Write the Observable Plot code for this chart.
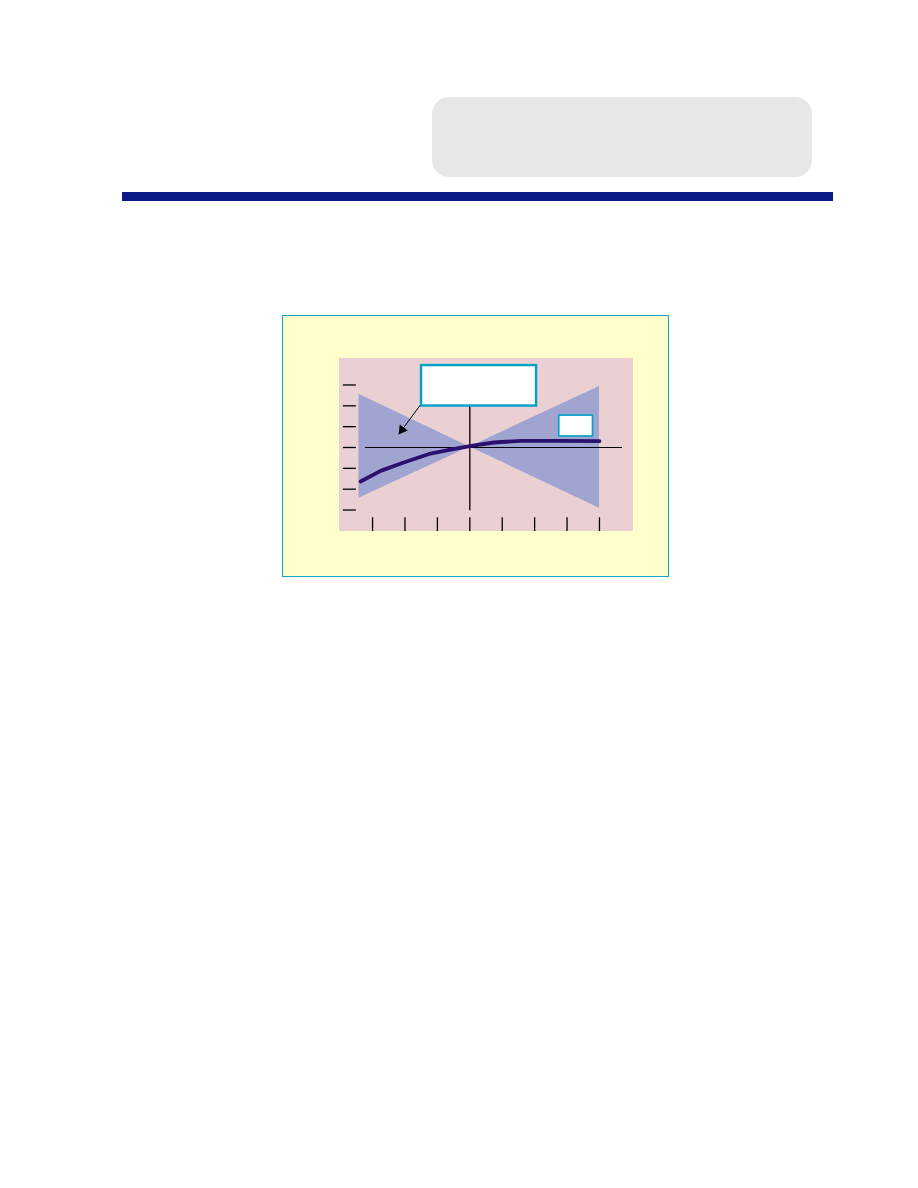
<!DOCTYPE html>
<html><head><meta charset="utf-8">
<script src="https://cdn.jsdelivr.net/npm/d3@7"></script>
<script src="https://cdn.jsdelivr.net/npm/@observablehq/plot@0.6"></script>
<style>
html,body{margin:0;padding:0;background:#fff;font-family:"Liberation Sans",Arial,sans-serif;}
#page{position:relative;width:918px;height:1188px;overflow:hidden;}
.gray{position:absolute;left:432px;top:97px;width:380px;height:80px;background:#e6e7e9;border-radius:17px;}
.bar{position:absolute;left:122px;top:192px;width:711px;height:9px;background:#0c1a8a;}
.frame{position:absolute;left:282px;top:315px;width:385px;height:260px;background:#ffffcc;border:1.5px solid #1aa3c8;}
#chart{position:absolute;left:339px;top:358px;line-height:0;}
</style></head>
<body>
<div id="page">
  <div class="gray"></div>
  <div class="bar"></div>
  <div class="frame"></div>
  <div id="chart"></div>
</div>
<script>
// ---- data ----
const xTicks = [-3, -2, -1, 0, 1, 2, 3, 4];
const yTicks = [-3, -2, -1, 0, 1, 2, 3];
const bandX = [-3.42, 0, 4];
const bandLow = [-2.43, 0.03, -2.91];
const bandHigh = [2.56, 0.03, 2.93];
const lineX = [-3.37, -2.75, -2.04, -1.21, -0.60, 0, 0.74, 1.56, 2.79, 4.0];
const lineY = [-1.63, -1.12, -0.72, -0.29, -0.10, 0.07, 0.24, 0.32, 0.32, 0.31];
const calloutBox = {x1: -1.49, x2: 2.06, y1: 1.99, y2: 3.93};
const labelBox = {x1: 2.76, x2: 3.8, y1: 0.53, y2: 1.53};
const arrowFrom = [-1.52, 2.05];
const arrowTo = [-2.19, 0.64];

// ---- build ----
const band = bandX.map((x, i) => ({x, lo: bandLow[i], hi: bandHigh[i]}));
const series = lineX.map((x, i) => ({x, y: lineY[i]}));
const W = 294, H = 173;
const xDom = [-4.02, 5.05], yDom = [-4.03, 4.27];
const kx = W / (xDom[1] - xDom[0]), ky = H / (yDom[1] - yDom[0]);
const dxp = (arrowTo[0] - arrowFrom[0]) * kx, dyp = -(arrowTo[1] - arrowFrom[1]) * ky;
const ang = Math.atan2(dyp, dxp);
const back = 5.4;

const chart = Plot.plot({
  width: W, height: H,
  margin: 0,
  x: {domain: xDom, axis: null},
  y: {domain: yDom, axis: null},
  style: {background: "#eacfd3", overflow: "visible"},
  marks: [
    Plot.areaY(band, {x: "x", y1: "lo", y2: "hi", fill: "#a0a4d1", curve: "linear"}),
    Plot.ruleY([0], {x1: -3.22, x2: 4.71, stroke: "#000", strokeWidth: 1.1}),
    Plot.ruleX([0], {y1: -3.04, y2: 2.9, stroke: "#000", strokeWidth: 1.3}),
    Plot.line(series, {x: "x", y: "y", stroke: "#2b106f", strokeWidth: 3.8, curve: "linear", strokeLinejoin: "round"}),
    Plot.ruleY(yTicks, {x1: -3.9, x2: -3.5, stroke: "#000", strokeWidth: 1.3}),
    Plot.ruleX(xTicks, {y1: -3.37, y2: -4.03, stroke: "#000", strokeWidth: 1.3}),
    Plot.link([{}], {x1: () => arrowFrom[0], y1: () => arrowFrom[1], x2: () => arrowTo[0], y2: () => arrowTo[1], stroke: "#000", strokeWidth: 1}),
    Plot.dot([{}], {x: () => arrowTo[0], y: () => arrowTo[1], symbol: "triangle", r: 3.7, fill: "#000", stroke: "none",
      rotate: ang * 180 / Math.PI + 90, dx: -Math.cos(ang) * back, dy: -Math.sin(ang) * back}),
    Plot.rect([calloutBox], {x1: "x1", x2: "x2", y1: "y1", y2: "y2", fill: "#fff", stroke: "#00a3c8", strokeWidth: 2.4}),
    Plot.rect([labelBox], {x1: "x1", x2: "x2", y1: "y1", y2: "y2", fill: "#fff", stroke: "#00a3c8", strokeWidth: 1.6})
  ]
});
document.getElementById("chart").appendChild(chart);
</script>
</body></html>
